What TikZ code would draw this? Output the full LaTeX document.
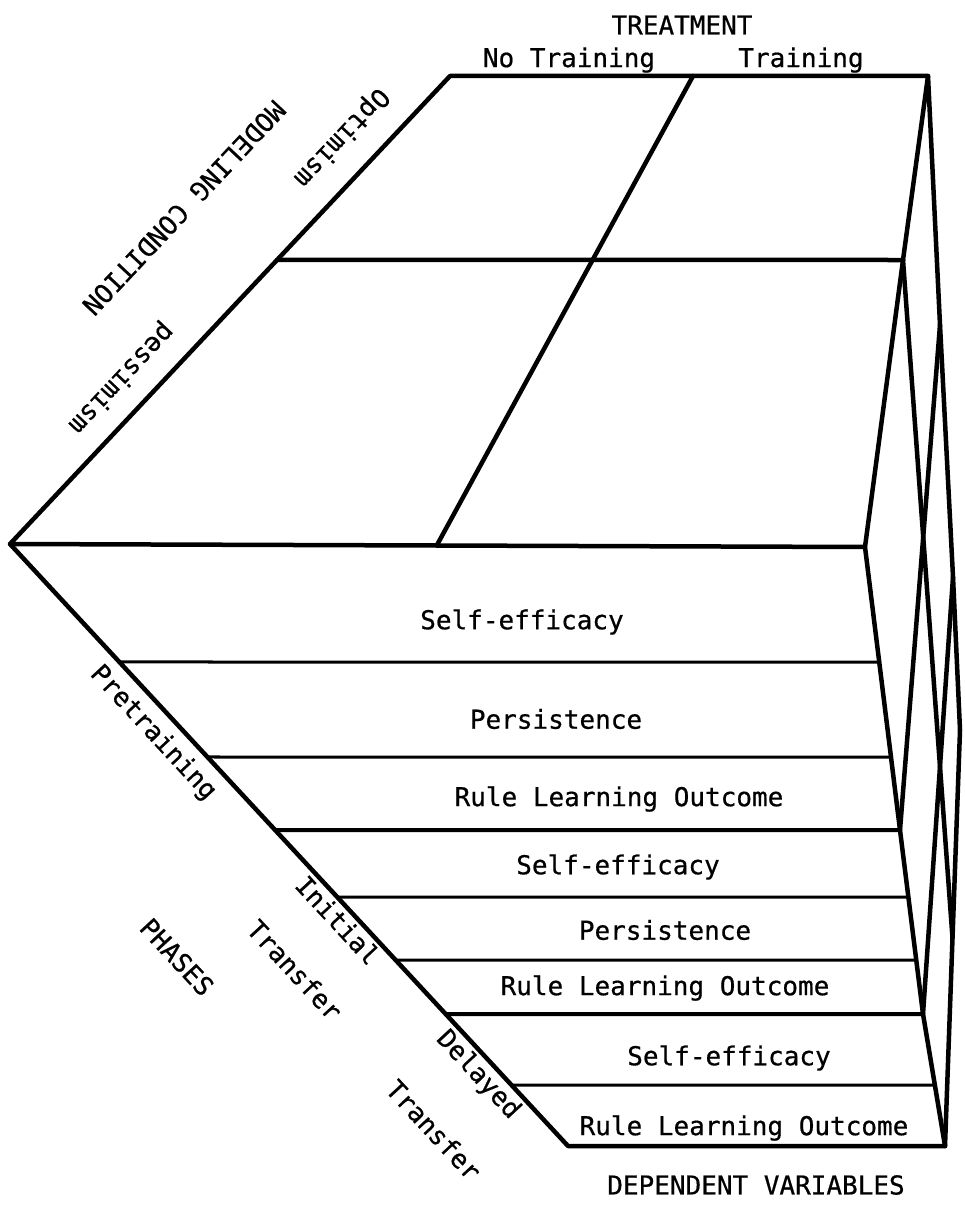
\documentclass[tikz,border=0pt]{standalone}
\usepackage{fontspec}
\newfontfamily\typew[FakeBold=0.6]{DejaVu Sans Mono}
\usetikzlibrary{calc}

\tikzset{
  edge/.style={line width=4.5pt, line join=round, line cap=round},
  slice/.style={line width=3pt},
  phase/.style={line width=4pt},
  lbl/.style={font=\typew\fontsize{26}{30}\selectfont, inner sep=0pt},
}

\begin{document}
\begin{tikzpicture}[x=1pt, y=-1pt]
\useasboundingbox (0,0) rectangle (964,1212);
% corners of the box
\coordinate (L) at (10,544);
\coordinate (TL) at (450,76);
\coordinate (TR) at (928,76);
\coordinate (TD) at (693,76);
\coordinate (MR) at (903,260);
\coordinate (ML) at ($(L)!0.607!(TL)$);
\coordinate (FT) at (865,547);
\coordinate (FD) at (437,545);
\coordinate (P1) at (900,830);
\coordinate (P2) at (923,1014);
\coordinate (FB) at (945,1146);
\coordinate (B) at (568,1146);
% back edge of the side face
\coordinate (A1) at (940,325);
\coordinate (V1) at (953,577);
\coordinate (BB) at (960,730);
\coordinate (BM) at ($(FB)!0.5!(BB)$);

% top face
\draw[edge] (FT)--(L)--(TL)--(TR)--(MR)--(FT);
\draw[edge] (ML)--(MR);
\draw[edge] (TD)--(FD);

% front face
\draw[edge] (L)--(B)--(FB);
\draw[edge] (FT)--(P1)--(P2)--(FB);
\foreach \y in {662,757}
  \draw[slice] ($(L)!{(\y-544)/602}!(B)$) -- ($(FT)!{(\y-547)/283}!(P1)$);
\draw[phase] ($(L)!{(830-544)/602}!(B)$) -- (P1);
\foreach \y in {897,960}
  \draw[slice] ($(L)!{(\y-544)/602}!(B)$) -- ($(P1)!{(\y-830)/184}!(P2)$);
\draw[phase] ($(L)!{(1014-544)/602}!(B)$) -- (P2);
\draw[slice] ($(L)!{(1085-544)/602}!(B)$) -- ($(P2)!{(1085-1014)/132}!(FB)$);

% side face
\draw[edge] (TR)--(A1)--(V1)--(BB)--(FB);
\draw[edge] (MR)--(BM);
\draw[edge] (P1)--(A1);
\draw[edge] (P2)--(V1);

% labels
\node[lbl] at (682,25) {TREATMENT};
\node[lbl] at (569,60) {No Training};
\node[lbl] at (801,60) {Training};
\node[lbl, rotate=-133.2] at (184,208) {MODELING CONDITION};
\node[lbl, rotate=-133.2] at (341,137) {Optimism};
\node[lbl, rotate=-133.2] at (121,378) {pessimism};

\node[lbl] at (522,622) {Self-efficacy};
\node[lbl] at (556,719) {Persistence};
\node[lbl] at (619,799) {Rule Learning Outcome};
\node[lbl] at (618,867) {Self-efficacy};
\node[lbl] at (665,930) {Persistence};
\node[lbl] at (665,988) {Rule Learning Outcome};
\node[lbl] at (729,1058) {Self-efficacy};
\node[lbl] at (744,1128) {Rule Learning Outcome};
\node[lbl] at (756,1185) {DEPENDENT VARIABLES};

\node[lbl, rotate=-47.2] at (153,733) {Pretraining};
\node[lbl, rotate=-47.2] at (338,920) {Initial};
\node[lbl, rotate=-47.2] at (295,970) {Transfer};
\node[lbl, rotate=-47.2] at (177,957) {PHASES};
\node[lbl, rotate=-47.2] at (478,1075) {Delayed};
\node[lbl, rotate=-47.2] at (434,1130) {Transfer};
\end{tikzpicture}
\end{document}
